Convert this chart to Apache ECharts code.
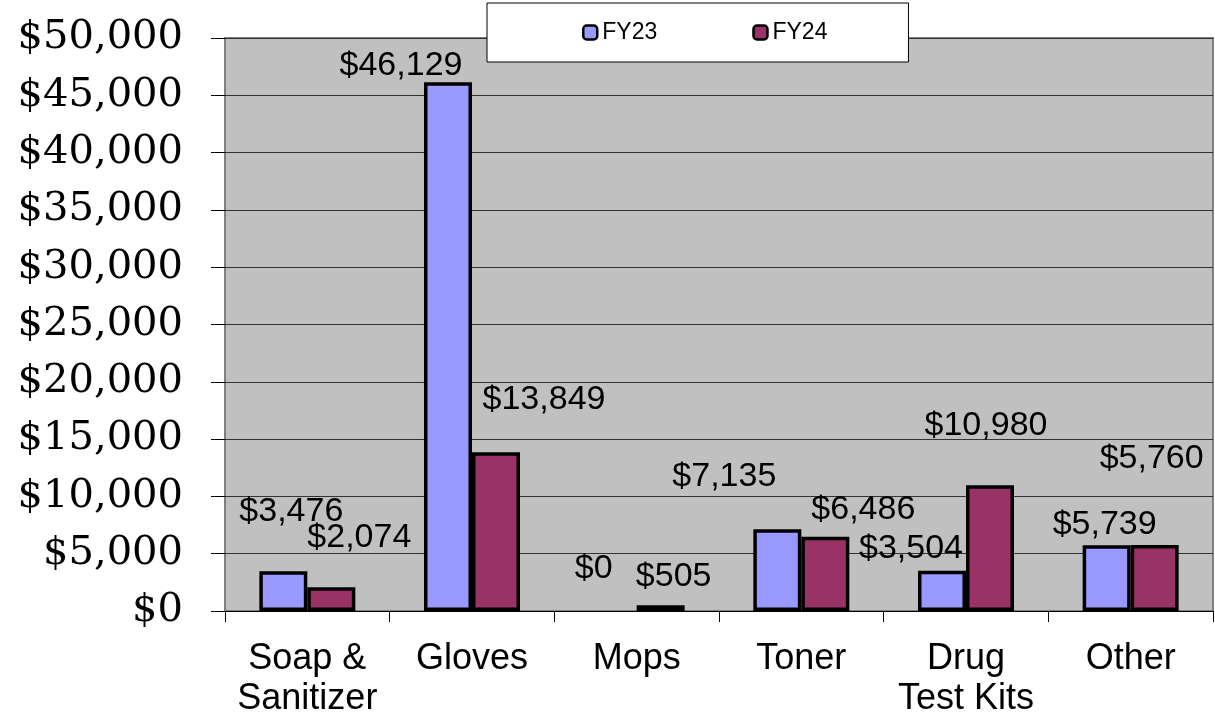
<!DOCTYPE html>
<html>
<head>
<meta charset="utf-8" />
<title>FY23 vs FY24</title>
<script src="https://cdn.jsdelivr.net/npm/echarts@6/dist/echarts.min.js"></script>
<style>
  html,
  body {
    margin: 0;
    padding: 0;
    background: #fff;
  }
  #dom {
    width: 1215px;
    height: 719px;
  }
</style>
</head>
<body>
<div id="dom"></div>
<script>
// data
const categories = ["Soap &\nSanitizer", "Gloves", "Mops", "Toner", "Drug\nTest Kits", "Other"];
const fy23 = [3476, 46129, 0, 7135, 3504, 5739];
const fy24 = [2074, 13849, 505, 6486, 10980, 5760];
const yTicks = { min: 0, max: 50000, interval: 5000 };

// label nudges (px) so the value labels sit where they were placed by hand
const fy23LabelOffset = [[8, -38], [-47, 5], [-19, -20], [-53, -31], [-31, 0], [-2, 1]];
const fy24LabelOffset = [[28, -28], [48, -31], [13, -7], [38, -5], [-4, -38], [-3, -64]];

const money = v => "$" + v.toLocaleString("en-US");

function seriesData(values, offsets) {
  return values.map((v, i) => ({
    value: v,
    label: { offset: offsets[i] },
    // a zero bar has no outline in the original
    itemStyle: v === 0 ? { borderWidth: 0 } : undefined
  }));
}

const labelStyle = {
  show: true,
  position: "top",
  distance: 5,
  color: "#000",
  fontFamily: "Liberation Sans, Arial",
  fontSize: 34,
  formatter: p => money(p.value)
};

const option = {
  animation: false,
  color: ["#9999FF", "#993366"],
  legend: {
    left: 487,
    top: 3,
    padding: [18, 81, 18, 95],
    itemGap: 95,
    itemWidth: 14,
    itemHeight: 14,
    backgroundColor: "#fff",
    borderColor: "#000",
    borderWidth: 1,
    selectedMode: false,
    itemStyle: { borderColor: "#000", borderWidth: 2.5 },
    textStyle: {
      color: "#000",
      fontFamily: "Liberation Sans, Arial",
      fontSize: 23
    },
    data: ["FY23", "FY24"]
  },
  grid: {
    left: 225,
    right: 2,
    top: 38,
    bottom: 107,
    show: true,
    backgroundColor: "#C0C0C0",
    borderColor: "#808080",
    borderWidth: 2
  },
  xAxis: {
    type: "category",
    data: categories,
    axisLine: { show: true, lineStyle: { color: "#000", width: 1 } },
    axisTick: { show: true, length: 11, lineStyle: { color: "#000" } },
    axisLabel: {
      margin: 28,
      color: "#000",
      fontFamily: "Liberation Sans, Arial",
      fontSize: 36,
      lineHeight: 40,
      interval: 0
    }
  },
  yAxis: {
    type: "value",
    min: yTicks.min,
    max: yTicks.max,
    interval: yTicks.interval,
    axisLine: { show: false },
    axisTick: { show: true, length: 14, lineStyle: { color: "#000" } },
    splitLine: { show: true, lineStyle: { color: "#333", width: 1 } },
    axisLabel: {
      margin: 42,
      padding: [8, 0, 0, 0],
      color: "#000",
      fontFamily: "DejaVu Serif",
      fontSize: 40,
      formatter: v => money(v)
    }
  },
  series: [
    {
      name: "FY23",
      type: "bar",
      barGap: "0%",
      barCategoryGap: "41.7%",
      itemStyle: { borderColor: "#000", borderWidth: 3.5 },
      label: labelStyle,
      data: seriesData(fy23, fy23LabelOffset)
    },
    {
      name: "FY24",
      type: "bar",
      barGap: "0%",
      barCategoryGap: "41.7%",
      itemStyle: { borderColor: "#000", borderWidth: 3.5 },
      label: labelStyle,
      data: seriesData(fy24, fy24LabelOffset)
    }
  ]
};

const chart = echarts.init(document.getElementById("dom"));
chart.setOption(option);
window.addEventListener("resize", () => chart.resize());
</script>
</body>
</html>
